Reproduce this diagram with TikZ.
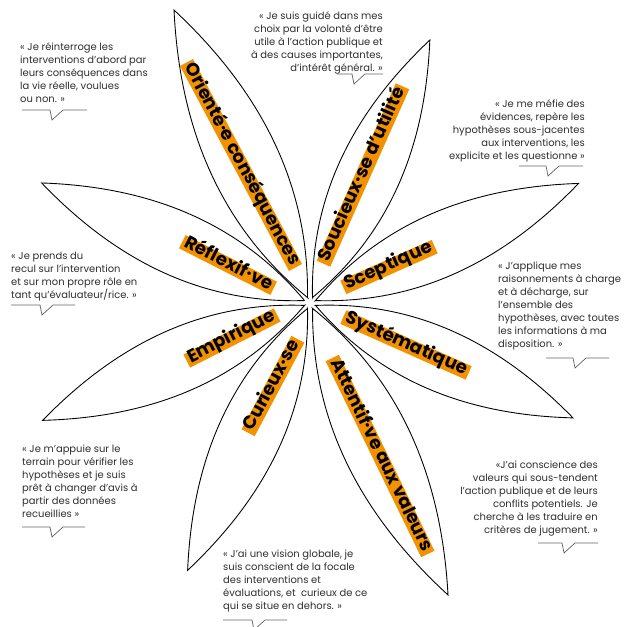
\documentclass[tikz,border=0pt]{standalone}
\usepackage{fontspec}
\newfontfamily\popfont{Poppins}
\usetikzlibrary{calc}
\definecolor{petalorange}{HTML}{F39200}
\definecolor{quotegray}{HTML}{2E2E2E}

\begin{document}
\begin{tikzpicture}[x=0.03cm,y=-0.03cm,
    petal/.style={draw=black,line width=0.75pt},
    lab/.style={fill=petalorange,font=\popfont\bfseries\fontsize{15.5}{15.5}\selectfont,inner xsep=2.5pt,inner ysep=0.5pt,text height=0.9em,text depth=0.26em},
    q/.style={font=\popfont\fontsize{8.5}{11.1}\selectfont,text=quotegray,inner sep=0pt},
    ql/.style={line width=0.6pt,draw=quotegray!75}]
  \useasboundingbox (0,0) rectangle (626,627);
  \coordinate (ctr) at (310,303);
  % petals
  \foreach \a/\l in {114.9/323,65.5/289,24/294,-23.6/287,-64.7/323,245.4/294,203.7/292,155.9/294}{
    \begin{scope}[shift={(ctr)},rotate=\a]
      \draw[petal] (6,0) .. controls (6+0.33*\l,0.16*\l) and (0.68*\l,0.13*\l) .. (\l,0)
        .. controls (0.68*\l,-0.13*\l) and (6+0.33*\l,-0.16*\l) .. cycle;
    \end{scope}}
  % labels
  \node[lab,rotate=-62] (l1) at (241,165) {Orienté·e conséquences};
  \node[lab,rotate=66] (l2) at (363,175) {Soucieux·se d’utilité};
  \node[lab,rotate=24] (l3) at (389,267) {Sceptique};
  \node[lab,rotate=-24] (l4) at (406,345) {Systématique};
  \node[lab,rotate=-64] (l5) at (380,456) {Attentif·ve aux valeurs};
  \node[lab,rotate=62] (l6) at (273,386) {Curieux·se};
  \node[lab,rotate=27] (l7) at (232,338) {Empirique};
  \node[lab,rotate=-27] (l8) at (228,265) {Réflexif·ve};
  % quotes
  \node[q,anchor=north west,align=left] (q1) at (20,42) {« Je réinterroge les\\interventions d’abord par\\leurs conséquences dans\\la vie réelle, voulues\\ou non. »};
  \node[q,anchor=north east,align=right] (q2) at (383,11) {« Je suis guidé dans mes\\choix par la volonté d’être\\utile à l’action publique et\\à des causes importantes,\\d’intérêt général. »};
  \node[q,anchor=north east,align=right] (q3) at (585,99) {« Je me méfie des\\évidences, repère les\\hypothèses sous-jacentes\\aux interventions, les\\explicite et les questionne »};
  \node[q,anchor=north west,align=left] (q4) at (11,252) {« Je prends du\\recul sur l’intervention\\et sur mon propre rôle en\\tant qu’évaluateur/rice. »};
  \node[q,anchor=north west,align=left] (q5) at (498,262) {« J’applique mes\\raisonnements à charge\\et à décharge, sur\\l’ensemble des\\hypothèses, avec toutes\\les informations à ma\\disposition. »};
  \node[q,anchor=north west,align=left] (q6) at (22,445) {« Je m’appuie sur le\\terrain pour vérifier les\\hypothèses et je suis\\prêt à changer d’avis à\\partir des données\\recueillies »};
  \node[q,anchor=north east,align=right] (q7) at (598,461) {«J’ai conscience des\\valeurs qui sous-tendent\\l’action publique et de leurs\\conflits potentiels. Je\\cherche à les traduire en\\critères de jugement. »};
  \node[q,anchor=north west,align=left] (q8) at (223,550) {« J’ai une vision globale, je\\suis conscient de la focale\\des interventions et\\évaluations, et\ \ curieux de ce\\qui se situe en dehors. »};
  % speech tails
  \draw[ql] (22,110) -- (50,110) -- (52,120) -- (63,110) -- (87,110);
  \draw[ql] (337,74) -- (352,74) -- (354,84) -- (365,74) -- (383,74);
  \draw[ql] (519,166) -- (546,166) -- (548,176) -- (559,166) -- (583,166);
  \draw[ql] (11,305) -- (40,305) -- (42,315) -- (53,305) -- (75,305);
  \draw[ql] (546,358) -- (573,358) -- (575,368) -- (586,358) -- (609,358);
  \draw[ql] (22,527) -- (50,527) -- (52,537) -- (63,527) -- (85,527);
  \draw[ql] (538,543) -- (562,543) -- (564,553) -- (575,543) -- (598,543);
  \draw[ql] (223,620) -- (252,620) -- (254,630) -- (265,620) -- (287,620);
\end{tikzpicture}
\end{document}
